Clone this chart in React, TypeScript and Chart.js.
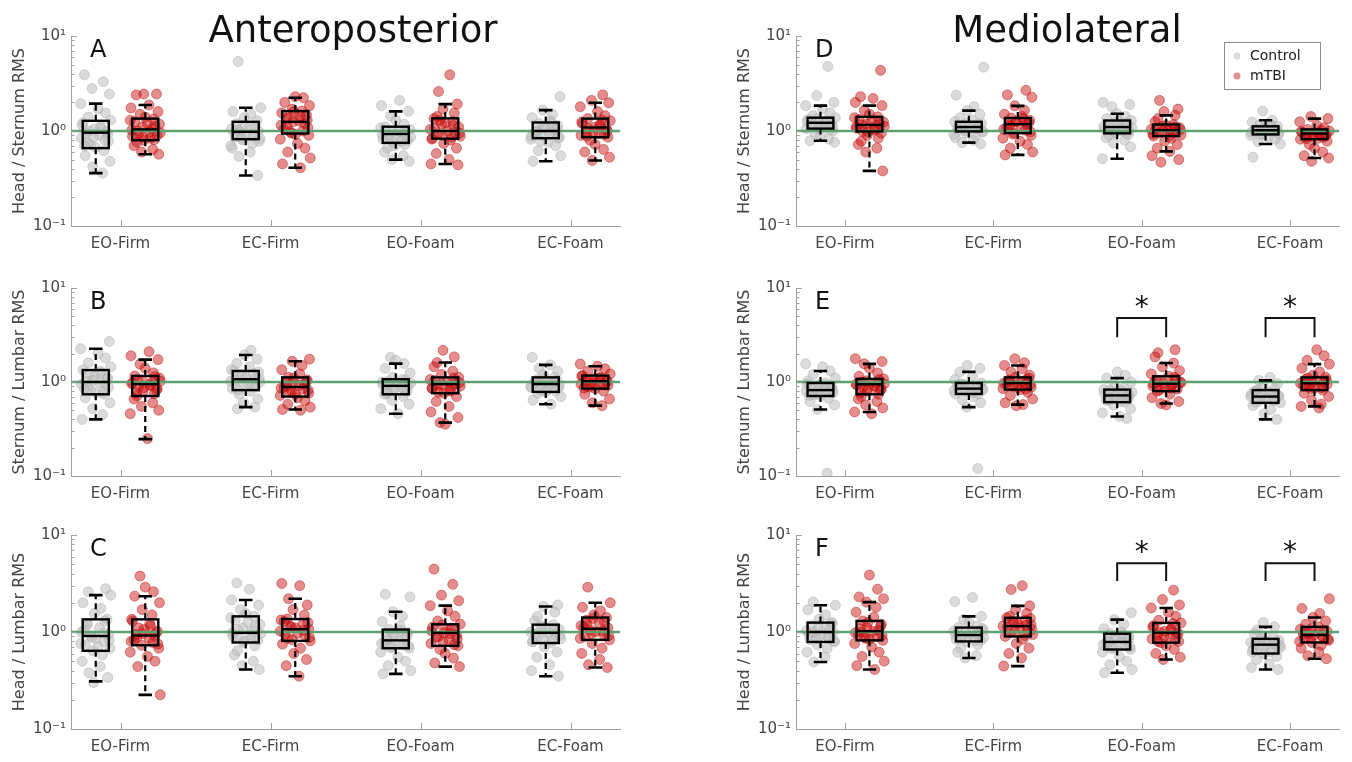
import React, { useEffect, useRef } from 'react';
import { Chart, registerables } from 'chart.js';

Chart.register(...registerables);

// ---------------- DATA ----------------
const CATEGORIES = ['EO-Firm', 'EC-Firm', 'EO-Foam', 'EC-Foam'];
const CATEGORY_VALUES = [1, 2, 3, 4];
const Y_TICK_VALUES = [0.1, 1, 10];
const Y_TICK_LABELS = ['10⁻¹', '10⁰', '10¹'];
const Y_MINOR_TICKS = [0.2, 0.3, 0.4, 0.5, 0.6, 0.7, 0.8, 0.9, 2, 3, 4, 5, 6, 7, 8, 9];
const REFERENCE_VALUE = 1;
const SERIES_NAMES = ['Control', 'mTBI'];
const COLUMN_TITLES = ['Anteroposterior', 'Mediolateral'];
const PANEL_LETTERS = ['A', 'B', 'C', 'D', 'E', 'F'];
const Y_TITLES = ['Head / Sternum RMS', 'Sternum / Lumbar RMS', 'Head / Lumbar RMS', 'Head / Sternum RMS', 'Sternum / Lumbar RMS', 'Head / Lumbar RMS'];

// jitter offsets (x units) for the scatter points
const JITTER = [-0.075, 0.05, -0.025, 0.09, -0.1, 0.015, 0.065, -0.05, 0.1, -0.085, 0.035, -0.01, 0.075, -0.06, 0.025, -0.095, 0.085, -0.035, 0.0, 0.055, -0.07, 0.095, -0.02, 0.045, -0.09, 0.03, -0.045, 0.08, -0.015, 0.06, -0.055];

// box stats per category: [lower whisker, Q1, median, Q3, upper whisker]
const A_CONTROL_BOX = [[0.36, 0.66, 0.96, 1.28, 1.94], [0.34, 0.82, 0.98, 1.25, 1.76], [0.50, 0.75, 0.93, 1.11, 1.61], [0.48, 0.84, 1.0, 1.23, 1.66]];
const A_MTBI_BOX = [[0.57, 0.80, 1.04, 1.35, 1.88], [0.41, 0.94, 1.25, 1.62, 2.24], [0.45, 0.83, 1.0, 1.36, 1.92], [0.49, 0.86, 1.09, 1.35, 1.98]];
const B_CONTROL_BOX = [[0.40, 0.74, 1.0, 1.34, 2.26], [0.54, 0.82, 1.07, 1.31, 1.94], [0.46, 0.74, 0.91, 1.07, 1.57], [0.58, 0.785, 0.95, 1.12, 1.52]];
const B_MTBI_BOX = [[0.247, 0.71, 0.95, 1.16, 1.73], [0.51, 0.70, 0.885, 1.12, 1.66], [0.37, 0.76, 0.95, 1.12, 1.61], [0.56, 0.85, 1.02, 1.17, 1.47]];
const C_CONTROL_BOX = [[0.31, 0.64, 0.91, 1.35, 2.4], [0.41, 0.78, 0.98, 1.45, 2.14], [0.37, 0.68, 0.82, 1.06, 1.62], [0.35, 0.77, 0.98, 1.19, 1.83]];
const C_MTBI_BOX = [[0.225, 0.73, 0.92, 1.35, 2.34], [0.35, 0.81, 1.07, 1.36, 2.2], [0.44, 0.72, 0.98, 1.2, 1.87], [0.43, 0.83, 1.08, 1.41, 2.0]];
const D_CONTROL_BOX = [[0.79, 1.06, 1.22, 1.38, 1.85], [0.755, 0.99, 1.1, 1.25, 1.64], [0.51, 0.945, 1.1, 1.29, 1.52], [0.73, 0.92, 1.02, 1.12, 1.30]];
const D_MTBI_BOX = [[0.38, 0.99, 1.16, 1.41, 1.85], [0.56, 0.95, 1.18, 1.37, 1.84], [0.61, 0.885, 1.02, 1.17, 1.46], [0.52, 0.82, 0.94, 1.04, 1.35]];
const E_CONTROL_BOX = [[0.51, 0.71, 0.82, 0.975, 1.31], [0.54, 0.746, 0.85, 0.975, 1.28], [0.43, 0.61, 0.72, 0.83, 1.1], [0.40, 0.60, 0.70, 0.82, 1.04]];
const E_MTBI_BOX = [[0.48, 0.74, 0.945, 1.08, 1.56], [0.575, 0.83, 0.975, 1.12, 1.5], [0.59, 0.80, 0.96, 1.15, 1.59], [0.55, 0.82, 0.97, 1.12, 1.55]];
const F_CONTROL_BOX = [[0.49, 0.79, 1.0, 1.25, 1.89], [0.54, 0.80, 0.93, 1.11, 1.45], [0.38, 0.66, 0.79, 0.96, 1.34], [0.41, 0.60, 0.74, 0.85, 1.13]];
const F_MTBI_BOX = [[0.41, 0.82, 1.02, 1.3, 2.03], [0.445, 0.90, 1.15, 1.40, 1.86], [0.52, 0.776, 0.985, 1.24, 1.77], [0.53, 0.78, 0.93, 1.13, 1.41]];

// individual subject values per category
const A_CONTROL_PTS = [
  [3.9, 3.3, 2.8, 2.45, 1.94, 1.7, 1.55, 1.4, 1.3, 1.22, 1.12, 1.05, 0.98, 0.95, 0.9, 0.84, 0.78, 0.72, 0.67, 0.62, 0.55, 0.48, 0.42, 0.36, 1.15, 1.08, 1.0, 0.92, 0.86, 0.8, 0.75, 0.7],
  [5.4, 1.76, 1.6, 1.5, 1.38, 1.28, 1.2, 1.12, 1.05, 1.0, 0.97, 0.93, 0.9, 0.86, 0.83, 0.8, 0.74, 0.66, 0.6, 0.54, 0.34, 1.15, 1.1, 1.02, 0.95, 0.88, 0.84, 0.78, 0.7],
  [2.1, 1.85, 1.61, 1.45, 1.3, 1.18, 1.1, 1.04, 0.98, 0.95, 0.92, 0.88, 0.84, 0.8, 0.76, 0.72, 0.66, 0.6, 0.55, 0.5, 0.48, 1.08, 1.0, 0.96, 0.9, 0.86, 0.82, 0.78, 0.7],
  [2.3, 1.66, 1.5, 1.38, 1.28, 1.2, 1.14, 1.08, 1.03, 1.0, 0.97, 0.93, 0.9, 0.86, 0.82, 0.76, 0.7, 0.62, 0.55, 0.48, 1.22, 1.1, 1.05, 0.98, 0.95, 0.88, 0.84, 0.78],
];
const A_MTBI_PTS = [
  [2.45, 2.45, 2.4, 1.88, 1.75, 1.6, 1.5, 1.4, 1.33, 1.25, 1.18, 1.1, 1.06, 1.02, 0.98, 0.94, 0.9, 0.86, 0.81, 0.76, 0.7, 0.64, 0.6, 0.57, 1.3, 1.2, 1.12, 1.0, 0.96, 0.88, 0.84, 0.8],
  [2.3, 2.24, 2.0, 1.85, 1.7, 1.62, 1.55, 1.45, 1.38, 1.3, 1.25, 1.2, 1.12, 1.05, 1.0, 0.95, 0.9, 0.82, 0.74, 0.66, 0.6, 0.52, 0.45, 0.41, 1.6, 1.48, 1.35, 1.28, 1.15, 1.08, 0.98, 0.92],
  [3.9, 2.6, 1.92, 1.7, 1.55, 1.42, 1.35, 1.26, 1.18, 1.1, 1.04, 1.0, 0.97, 0.93, 0.88, 0.84, 0.8, 0.74, 0.66, 0.58, 0.5, 0.45, 0.44, 1.3, 1.22, 1.14, 1.06, 0.95, 0.9, 0.86, 0.82],
  [2.4, 2.1, 1.98, 1.8, 1.6, 1.45, 1.35, 1.28, 1.2, 1.14, 1.09, 1.04, 0.99, 0.94, 0.9, 0.86, 0.8, 0.72, 0.64, 0.6, 0.53, 0.49, 1.3, 1.24, 1.16, 1.06, 1.0, 0.96, 0.92, 0.88],
];
const B_CONTROL_PTS = [
  [2.7, 2.26, 2.0, 1.8, 1.6, 1.45, 1.34, 1.25, 1.15, 1.08, 1.02, 0.98, 0.94, 0.88, 0.82, 0.77, 0.74, 0.68, 0.6, 0.52, 0.45, 0.40, 1.3, 1.2, 1.1, 1.04, 0.96, 0.9, 0.84, 0.78],
  [2.17, 1.94, 1.75, 1.58, 1.45, 1.35, 1.28, 1.2, 1.12, 1.08, 1.05, 1.0, 0.95, 0.9, 0.85, 0.8, 0.74, 0.66, 0.6, 0.54, 0.52, 1.3, 1.22, 1.15, 1.1, 1.02, 0.97, 0.88, 0.83],
  [1.83, 1.7, 1.57, 1.4, 1.25, 1.12, 1.06, 1.0, 0.95, 0.92, 0.9, 0.86, 0.82, 0.78, 0.74, 0.7, 0.64, 0.58, 0.52, 0.46, 1.05, 1.02, 0.97, 0.93, 0.88, 0.84, 0.8, 0.76],
  [1.83, 1.52, 1.4, 1.3, 1.2, 1.12, 1.06, 1.0, 0.97, 0.95, 0.92, 0.88, 0.84, 0.8, 0.76, 0.7, 0.64, 0.58, 1.1, 1.04, 1.0, 0.96, 0.9, 0.86, 0.82, 0.79],
];
const B_MTBI_PTS = [
  [2.1, 1.9, 1.73, 1.55, 1.4, 1.25, 1.16, 1.1, 1.04, 1.0, 0.96, 0.93, 0.9, 0.85, 0.8, 0.75, 0.71, 0.66, 0.6, 0.55, 0.5, 0.46, 0.25, 1.14, 1.06, 1.02, 0.98, 0.92, 0.87, 0.82, 0.77],
  [1.75, 1.66, 1.5, 1.35, 1.22, 1.12, 1.05, 1.0, 0.95, 0.9, 0.88, 0.85, 0.8, 0.76, 0.72, 0.68, 0.63, 0.58, 0.54, 0.51, 0.5, 1.1, 1.02, 0.97, 0.92, 0.86, 0.82, 0.78, 0.74],
  [2.17, 1.85, 1.61, 1.45, 1.3, 1.2, 1.12, 1.06, 1.0, 0.96, 0.93, 0.9, 0.85, 0.8, 0.76, 0.7, 0.62, 0.55, 0.48, 0.42, 0.37, 0.355, 1.1, 1.04, 0.98, 0.94, 0.9, 0.86, 0.82, 0.78],
  [1.55, 1.47, 1.38, 1.3, 1.22, 1.17, 1.12, 1.08, 1.04, 1.02, 0.99, 0.95, 0.92, 0.88, 0.85, 0.8, 0.74, 0.66, 0.6, 0.56, 1.15, 1.1, 1.06, 1.01, 0.97, 0.93, 0.9, 0.86],
];
const C_CONTROL_PTS = [
  [2.8, 2.6, 2.4, 2.0, 1.75, 1.55, 1.35, 1.22, 1.1, 1.0, 0.94, 0.91, 0.86, 0.8, 0.74, 0.68, 0.64, 0.58, 0.5, 0.44, 0.38, 0.34, 0.30, 1.3, 1.2, 1.05, 0.97, 0.88, 0.82, 0.76, 0.7],
  [3.2, 2.76, 2.14, 1.9, 1.7, 1.55, 1.45, 1.32, 1.2, 1.1, 1.02, 0.98, 0.93, 0.88, 0.82, 0.78, 0.72, 0.64, 0.58, 0.5, 0.45, 0.41, 1.4, 1.25, 1.15, 1.05, 0.96, 0.9, 0.85, 0.8],
  [2.45, 2.3, 1.62, 1.45, 1.28, 1.15, 1.06, 0.98, 0.92, 0.87, 0.82, 0.78, 0.74, 0.7, 0.68, 0.62, 0.55, 0.5, 0.45, 0.4, 0.37, 1.04, 0.95, 0.9, 0.85, 0.8, 0.76, 0.72, 0.69],
  [1.9, 1.83, 1.6, 1.45, 1.3, 1.19, 1.12, 1.06, 1.0, 0.98, 0.94, 0.9, 0.85, 0.8, 0.77, 0.7, 0.62, 0.55, 0.46, 0.4, 0.35, 1.16, 1.1, 1.03, 0.96, 0.92, 0.87, 0.82, 0.79],
];
const C_MTBI_PTS = [
  [3.77, 2.9, 2.6, 2.34, 2.0, 1.7, 1.5, 1.35, 1.22, 1.1, 1.02, 0.96, 0.92, 0.88, 0.83, 0.78, 0.73, 0.68, 0.62, 0.56, 0.5, 0.44, 0.225, 1.3, 1.15, 1.06, 0.98, 0.94, 0.86, 0.8, 0.75],
  [3.16, 3.0, 2.2, 1.9, 1.7, 1.5, 1.36, 1.28, 1.2, 1.12, 1.07, 1.02, 0.97, 0.92, 0.86, 0.81, 0.75, 0.68, 0.6, 0.52, 0.45, 0.35, 1.33, 1.25, 1.15, 1.1, 1.04, 0.95, 0.88, 0.83],
  [4.45, 3.1, 2.4, 2.1, 1.87, 1.65, 1.45, 1.3, 1.2, 1.12, 1.05, 0.98, 0.93, 0.88, 0.82, 0.76, 0.72, 0.66, 0.6, 0.54, 0.48, 0.44, 1.18, 1.1, 1.02, 0.96, 0.9, 0.85, 0.79, 0.74],
  [2.9, 2.0, 1.8, 1.65, 1.5, 1.41, 1.32, 1.24, 1.16, 1.1, 1.05, 1.0, 0.95, 0.9, 0.83, 0.76, 0.68, 0.6, 0.52, 0.46, 0.43, 1.38, 1.28, 1.2, 1.12, 1.02, 0.97, 0.92, 0.86],
];
const D_CONTROL_PTS = [
  [4.78, 2.36, 2.0, 1.85, 1.7, 1.55, 1.45, 1.38, 1.32, 1.27, 1.22, 1.18, 1.14, 1.1, 1.06, 1.0, 0.94, 0.88, 0.82, 0.79, 0.76, 1.35, 1.3, 1.25, 1.2, 1.16, 1.12, 1.08, 1.03],
  [4.7, 2.38, 1.8, 1.64, 1.5, 1.38, 1.3, 1.25, 1.2, 1.15, 1.1, 1.07, 1.03, 0.99, 0.95, 0.9, 0.85, 0.8, 0.755, 0.73, 1.22, 1.18, 1.12, 1.09, 1.05, 1.01, 0.97, 0.92],
  [2.0, 1.9, 1.8, 1.52, 1.42, 1.35, 1.29, 1.22, 1.16, 1.12, 1.1, 1.06, 1.02, 0.97, 0.945, 0.9, 0.85, 0.8, 0.75, 0.68, 0.51, 1.26, 1.2, 1.14, 1.08, 1.04, 1.0, 0.96, 0.92],
  [1.62, 1.3, 1.24, 1.18, 1.14, 1.12, 1.08, 1.05, 1.03, 1.01, 0.99, 0.96, 0.93, 0.9, 0.86, 0.82, 0.77, 0.73, 0.53, 1.1, 1.07, 1.04, 1.02, 1.0, 0.97, 0.94, 0.92],
];
const D_MTBI_PTS = [
  [4.35, 2.3, 2.2, 2.0, 1.85, 1.65, 1.5, 1.41, 1.32, 1.24, 1.18, 1.14, 1.1, 1.05, 0.99, 0.95, 0.9, 0.84, 0.78, 0.72, 0.66, 0.6, 0.38, 1.38, 1.28, 1.2, 1.16, 1.12, 1.07, 1.02, 0.97],
  [2.68, 2.4, 2.27, 1.84, 1.65, 1.5, 1.42, 1.37, 1.3, 1.24, 1.18, 1.13, 1.08, 1.02, 0.95, 0.9, 0.84, 0.78, 0.72, 0.66, 0.6, 0.56, 1.35, 1.27, 1.22, 1.16, 1.1, 1.04, 0.98, 0.93],
  [2.1, 1.7, 1.6, 1.46, 1.35, 1.25, 1.17, 1.12, 1.08, 1.04, 1.02, 0.99, 0.95, 0.91, 0.885, 0.84, 0.78, 0.72, 0.66, 0.61, 0.55, 0.5, 0.47, 1.15, 1.1, 1.06, 1.03, 1.0, 0.97, 0.93, 0.9],
  [1.42, 1.35, 1.25, 1.15, 1.08, 1.04, 1.0, 0.97, 0.95, 0.93, 0.9, 0.87, 0.84, 0.82, 0.78, 0.72, 0.66, 0.6, 0.55, 0.52, 0.48, 1.02, 0.99, 0.96, 0.94, 0.92, 0.89, 0.86, 0.83],
];
const E_CONTROL_PTS = [
  [1.56, 1.45, 1.31, 1.2, 1.1, 1.02, 0.975, 0.93, 0.88, 0.85, 0.82, 0.8, 0.77, 0.74, 0.71, 0.67, 0.62, 0.57, 0.51, 0.107, 0.95, 0.9, 0.86, 0.83, 0.8, 0.78, 0.75, 0.72],
  [1.5, 1.4, 1.28, 1.15, 1.06, 0.975, 0.94, 0.9, 0.87, 0.85, 0.83, 0.8, 0.77, 0.746, 0.7, 0.65, 0.6, 0.54, 0.12, 0.96, 0.92, 0.88, 0.86, 0.84, 0.81, 0.78, 0.75],
  [1.28, 1.18, 1.1, 1.0, 0.92, 0.86, 0.83, 0.8, 0.76, 0.73, 0.72, 0.7, 0.67, 0.64, 0.61, 0.57, 0.52, 0.47, 0.43, 0.41, 0.82, 0.78, 0.75, 0.72, 0.7, 0.67, 0.64, 0.62],
  [1.12, 1.04, 0.96, 0.9, 0.85, 0.82, 0.79, 0.76, 0.73, 0.71, 0.7, 0.68, 0.65, 0.62, 0.6, 0.56, 0.51, 0.46, 0.4, 0.8, 0.77, 0.74, 0.71, 0.69, 0.66, 0.63, 0.61],
];
const E_MTBI_PTS = [
  [1.77, 1.65, 1.56, 1.4, 1.25, 1.15, 1.08, 1.03, 0.98, 0.945, 0.91, 0.88, 0.84, 0.8, 0.74, 0.7, 0.66, 0.62, 0.57, 0.53, 0.48, 0.46, 1.06, 1.0, 0.96, 0.93, 0.9, 0.86, 0.82, 0.77],
  [1.77, 1.6, 1.5, 1.38, 1.27, 1.18, 1.12, 1.07, 1.02, 0.975, 0.95, 0.92, 0.88, 0.85, 0.83, 0.78, 0.72, 0.66, 0.6, 0.575, 0.56, 1.1, 1.05, 1.0, 0.97, 0.94, 0.9, 0.87, 0.84],
  [2.2, 2.05, 1.85, 1.59, 1.45, 1.32, 1.22, 1.15, 1.08, 1.02, 0.98, 0.96, 0.92, 0.88, 0.84, 0.8, 0.74, 0.68, 0.62, 0.59, 0.57, 1.12, 1.05, 1.0, 0.97, 0.94, 0.9, 0.86, 0.82],
  [2.2, 1.9, 1.7, 1.55, 1.4, 1.28, 1.18, 1.12, 1.07, 1.02, 0.97, 0.94, 0.9, 0.86, 0.82, 0.76, 0.7, 0.64, 0.58, 0.55, 0.53, 1.1, 1.05, 1.0, 0.98, 0.95, 0.91, 0.87, 0.84],
];
const F_CONTROL_PTS = [
  [2.04, 1.89, 1.7, 1.5, 1.35, 1.25, 1.16, 1.08, 1.03, 1.0, 0.96, 0.92, 0.87, 0.83, 0.79, 0.74, 0.68, 0.62, 0.55, 0.49, 1.22, 1.12, 1.05, 0.99, 0.94, 0.9, 0.85, 0.81],
  [2.27, 2.06, 1.45, 1.35, 1.25, 1.15, 1.11, 1.05, 1.0, 0.96, 0.93, 0.9, 0.86, 0.82, 0.8, 0.74, 0.68, 0.62, 0.57, 0.54, 1.09, 1.03, 0.98, 0.94, 0.91, 0.88, 0.84, 0.81],
  [1.58, 1.34, 1.2, 1.08, 1.0, 0.96, 0.91, 0.86, 0.82, 0.79, 0.76, 0.72, 0.69, 0.66, 0.62, 0.56, 0.5, 0.46, 0.41, 0.38, 0.94, 0.88, 0.84, 0.8, 0.78, 0.74, 0.7, 0.67],
  [1.25, 1.13, 1.05, 0.97, 0.9, 0.85, 0.82, 0.78, 0.75, 0.74, 0.72, 0.69, 0.66, 0.63, 0.6, 0.56, 0.52, 0.47, 0.43, 0.41, 0.84, 0.8, 0.77, 0.75, 0.73, 0.7, 0.67, 0.62],
];
const F_MTBI_PTS = [
  [3.86, 2.76, 2.3, 2.2, 2.03, 1.8, 1.6, 1.42, 1.3, 1.2, 1.1, 1.04, 1.0, 0.95, 0.9, 0.86, 0.82, 0.76, 0.7, 0.62, 0.56, 0.5, 0.45, 0.41, 1.26, 1.15, 1.08, 1.02, 0.98, 0.92, 0.88, 0.84],
  [3.0, 2.74, 1.86, 1.7, 1.55, 1.45, 1.4, 1.32, 1.25, 1.19, 1.15, 1.1, 1.04, 0.98, 0.94, 0.9, 0.84, 0.76, 0.68, 0.6, 0.54, 0.445, 1.38, 1.3, 1.22, 1.17, 1.12, 1.06, 1.0, 0.92],
  [2.7, 2.16, 1.9, 1.77, 1.6, 1.45, 1.32, 1.24, 1.16, 1.08, 1.02, 0.985, 0.94, 0.9, 0.85, 0.8, 0.776, 0.72, 0.66, 0.6, 0.55, 0.52, 1.22, 1.12, 1.05, 1.0, 0.96, 0.9, 0.84, 0.8],
  [2.2, 1.75, 1.55, 1.41, 1.3, 1.2, 1.13, 1.07, 1.02, 0.97, 0.93, 0.9, 0.86, 0.82, 0.78, 0.73, 0.68, 0.62, 0.57, 0.53, 1.1, 1.04, 0.99, 0.95, 0.92, 0.88, 0.84, 0.8],
];

// significance brackets: category index, bracket top value, leg end value
const E_SIGNIFICANCE = [{ cat: 3, top: 4.8, leg: 3.0 }, { cat: 4, top: 4.8, leg: 3.0 }];
const F_SIGNIFICANCE = [{ cat: 3, top: 5.1, leg: 3.35 }, { cat: 4, top: 5.1, leg: 3.35 }];

// ---------------- STYLE / LAYOUT ----------------
const X_MIN = 0.67;
const X_MAX = 4.33;
const Y_MIN = 0.1;
const Y_MAX = 10;
const GROUP_OFFSET = 0.165;
const BOX_HALF = 0.087;
const CAP_HALF = 0.045;
const FONT = '"DejaVu Sans", sans-serif';
const TEXT_COLOR = '#444';
const AXIS_COLOR = '#a0a0a0';
const CONTROL_FILL = 'rgba(190,190,190,0.55)';
const CONTROL_EDGE = 'rgba(170,170,170,0.45)';
const MTBI_FILL = 'rgba(200,10,10,0.47)';
const MTBI_EDGE = 'rgba(180,0,0,0.4)';
const GREEN = 'rgb(95,160,112)';

const AXIS_W = 71;
const PAD_TOP = 30;
const PAD_RIGHT = 10;
const XAXIS_H = 28;
const COLS = [{ left: 71, right: 620 }, { left: 796, right: 1339 }];
const ROWS = [{ top: 36, bottom: 226 }, { top: 288, bottom: 476 }, { top: 535, bottom: 729 }];

type Sig = { cat: number; top: number; leg: number };
type PanelDef = {
  letter: string;
  yTitle: string;
  col: number;
  row: number;
  controlBox: number[][];
  mtbiBox: number[][];
  controlPts: number[][];
  mtbiPts: number[][];
  sig: Sig[];
  legend: boolean;
};

const PANELS: PanelDef[] = [
  { letter: PANEL_LETTERS[0], yTitle: Y_TITLES[0], col: 0, row: 0, controlBox: A_CONTROL_BOX, mtbiBox: A_MTBI_BOX, controlPts: A_CONTROL_PTS, mtbiPts: A_MTBI_PTS, sig: [], legend: false },
  { letter: PANEL_LETTERS[1], yTitle: Y_TITLES[1], col: 0, row: 1, controlBox: B_CONTROL_BOX, mtbiBox: B_MTBI_BOX, controlPts: B_CONTROL_PTS, mtbiPts: B_MTBI_PTS, sig: [], legend: false },
  { letter: PANEL_LETTERS[2], yTitle: Y_TITLES[2], col: 0, row: 2, controlBox: C_CONTROL_BOX, mtbiBox: C_MTBI_BOX, controlPts: C_CONTROL_PTS, mtbiPts: C_MTBI_PTS, sig: [], legend: false },
  { letter: PANEL_LETTERS[3], yTitle: Y_TITLES[3], col: 1, row: 0, controlBox: D_CONTROL_BOX, mtbiBox: D_MTBI_BOX, controlPts: D_CONTROL_PTS, mtbiPts: D_MTBI_PTS, sig: [], legend: true },
  { letter: PANEL_LETTERS[4], yTitle: Y_TITLES[4], col: 1, row: 1, controlBox: E_CONTROL_BOX, mtbiBox: E_MTBI_BOX, controlPts: E_CONTROL_PTS, mtbiPts: E_MTBI_PTS, sig: E_SIGNIFICANCE, legend: false },
  { letter: PANEL_LETTERS[5], yTitle: Y_TITLES[5], col: 1, row: 2, controlBox: F_CONTROL_BOX, mtbiBox: F_MTBI_BOX, controlPts: F_CONTROL_PTS, mtbiPts: F_MTBI_PTS, sig: F_SIGNIFICANCE, legend: false },
];

function canvasBox(p: PanelDef) {
  const c = COLS[p.col];
  const r = ROWS[p.row];
  return {
    left: c.left - AXIS_W,
    top: r.top - PAD_TOP,
    width: c.right - c.left + AXIS_W + PAD_RIGHT,
    height: r.bottom - r.top + PAD_TOP + XAXIS_H,
  };
}

function scatterData(pts: number[][], off: number, seed: number) {
  const out: { x: number; y: number }[] = [];
  pts.forEach((vals, ci) => {
    vals.forEach((v, i) => {
      const j = JITTER[(i + ci * 7 + seed) % JITTER.length];
      out.push({ x: CATEGORY_VALUES[ci] + off + j, y: v });
    });
  });
  return out;
}

function makePanelPlugin(p: PanelDef) {
  return {
    id: 'panelDecor' + p.letter,
    afterDatasetsDraw(chart: any) {
      const { ctx, chartArea } = chart;
      const xs = chart.scales.x;
      const ys = chart.scales.y;
      ctx.save();
      // axis ticks (inward)
      ctx.strokeStyle = AXIS_COLOR;
      ctx.lineWidth = 1;
      ctx.beginPath();
      Y_TICK_VALUES.forEach((v) => {
        const y = Math.round(ys.getPixelForValue(v)) + 0.5;
        ctx.moveTo(chartArea.left, y);
        ctx.lineTo(chartArea.left + 6, y);
      });
      Y_MINOR_TICKS.forEach((v) => {
        const y = Math.round(ys.getPixelForValue(v)) + 0.5;
        ctx.moveTo(chartArea.left, y);
        ctx.lineTo(chartArea.left + 3.5, y);
      });
      CATEGORY_VALUES.forEach((v) => {
        const x = Math.round(xs.getPixelForValue(v)) + 0.5;
        ctx.moveTo(x, chartArea.bottom);
        ctx.lineTo(x, chartArea.bottom - 6);
      });
      ctx.stroke();

      // boxes
      const groups: [number[][], number][] = [[p.controlBox, -GROUP_OFFSET], [p.mtbiBox, GROUP_OFFSET]];
      groups.forEach(([boxes, off]) => {
        boxes.forEach((b, ci) => {
          const xc = CATEGORY_VALUES[ci] + off;
          const xl = xs.getPixelForValue(xc - BOX_HALF);
          const xr = xs.getPixelForValue(xc + BOX_HALF);
          const xm = xs.getPixelForValue(xc);
          const cl = xs.getPixelForValue(xc - CAP_HALF);
          const cr = xs.getPixelForValue(xc + CAP_HALF);
          const [lo, q1, med, q3, hi] = b.map((v) => ys.getPixelForValue(v));
          ctx.strokeStyle = '#000';
          ctx.lineWidth = 2.2;
          ctx.setLineDash([6, 4]);
          ctx.beginPath();
          ctx.moveTo(xm, q3);
          ctx.lineTo(xm, hi);
          ctx.moveTo(xm, q1);
          ctx.lineTo(xm, lo);
          ctx.stroke();
          ctx.setLineDash([]);
          ctx.lineWidth = 2.6;
          ctx.beginPath();
          ctx.moveTo(cl, hi);
          ctx.lineTo(cr, hi);
          ctx.moveTo(cl, lo);
          ctx.lineTo(cr, lo);
          ctx.stroke();
          ctx.lineWidth = 2.4;
          ctx.strokeRect(xl, q3, xr - xl, q1 - q3);
          ctx.beginPath();
          ctx.moveTo(xl, med);
          ctx.lineTo(xr, med);
          ctx.stroke();
        });
      });

      // significance brackets
      p.sig.forEach((s) => {
        const x1 = xs.getPixelForValue(s.cat - GROUP_OFFSET);
        const x2 = xs.getPixelForValue(s.cat + GROUP_OFFSET);
        const yt = ys.getPixelForValue(s.top);
        const yl = ys.getPixelForValue(s.leg);
        ctx.strokeStyle = '#111';
        ctx.lineWidth = 2;
        ctx.beginPath();
        ctx.moveTo(x1, yl);
        ctx.lineTo(x1, yt);
        ctx.lineTo(x2, yt);
        ctx.lineTo(x2, yl);
        ctx.stroke();
        ctx.fillStyle = '#111';
        ctx.font = '28px ' + FONT;
        ctx.textAlign = 'center';
        ctx.textBaseline = 'alphabetic';
        ctx.fillText('*', (x1 + x2) / 2, yt - 2);
      });

      // legend
      if (p.legend) {
        const lx = chartArea.right - 115;
        const ly = chartArea.top + 6;
        ctx.fillStyle = '#fff';
        ctx.fillRect(lx, ly, 96, 47);
        ctx.strokeStyle = '#8c8c8c';
        ctx.lineWidth = 1;
        ctx.strokeRect(lx + 0.5, ly + 0.5, 96, 47);
        const items = [
          { name: SERIES_NAMES[0], fill: CONTROL_FILL },
          { name: SERIES_NAMES[1], fill: MTBI_FILL },
        ];
        items.forEach((it, i) => {
          const cy = ly + 14 + i * 20;
          ctx.fillStyle = it.fill;
          ctx.beginPath();
          ctx.arc(lx + 13, cy, 3.5, 0, Math.PI * 2);
          ctx.fill();
          ctx.fillStyle = '#222';
          ctx.font = '14px ' + FONT;
          ctx.textAlign = 'left';
          ctx.textBaseline = 'middle';
          ctx.fillText(it.name, lx + 26, cy);
        });
      }
      ctx.restore();
    },
  };
}

function Panel({ p }: { p: PanelDef }) {
  const ref = useRef<HTMLCanvasElement | null>(null);
  const box = canvasBox(p);
  useEffect(() => {
    if (!ref.current) return;
    const chart = new Chart(ref.current, {
      type: 'scatter',
      data: {
        datasets: [
          {
            type: 'line',
            label: 'reference',
            data: [{ x: X_MIN, y: REFERENCE_VALUE }, { x: X_MAX, y: REFERENCE_VALUE }],
            borderColor: GREEN,
            borderWidth: 2.5,
            pointRadius: 0,
            order: 0,
          } as any,
          {
            label: SERIES_NAMES[0],
            data: scatterData(p.controlPts, -GROUP_OFFSET, p.row * 3 + p.col),
            backgroundColor: CONTROL_FILL,
            borderColor: CONTROL_EDGE,
            borderWidth: 1,
            pointRadius: 5,
            order: 1,
          },
          {
            label: SERIES_NAMES[1],
            data: scatterData(p.mtbiPts, GROUP_OFFSET, p.row * 3 + p.col + 11),
            backgroundColor: MTBI_FILL,
            borderColor: MTBI_EDGE,
            borderWidth: 1,
            pointRadius: 5,
            order: 1,
          },
        ],
      },
      options: {
        animation: false,
        responsive: false,
        events: [],
        layout: { padding: { top: PAD_TOP, right: PAD_RIGHT, left: 0, bottom: 0 } },
        plugins: { legend: { display: false }, tooltip: { enabled: false }, title: { display: false } },
        scales: {
          x: {
            type: 'linear',
            min: X_MIN,
            max: X_MAX,
            grid: { display: false, drawTicks: false },
            border: { display: true, color: AXIS_COLOR, width: 1 },
            afterBuildTicks: (s: any) => {
              s.ticks = CATEGORY_VALUES.map((v) => ({ value: v }));
            },
            afterFit: (s: any) => {
              s.height = XAXIS_H;
            },
            ticks: {
              padding: 9,
              color: TEXT_COLOR,
              font: { family: FONT, size: 15 },
              maxRotation: 0,
              autoSkip: false,
              callback: (v: any) => {
                const i = CATEGORY_VALUES.indexOf(Number(v));
                return i >= 0 ? CATEGORIES[i] : '';
              },
            },
          },
          y: {
            type: 'logarithmic',
            min: Y_MIN,
            max: Y_MAX,
            grid: { display: false, drawTicks: false },
            border: { display: true, color: AXIS_COLOR, width: 1 },
            afterBuildTicks: (s: any) => {
              s.ticks = Y_TICK_VALUES.map((v) => ({ value: v }));
            },
            afterFit: (s: any) => {
              s.width = AXIS_W;
            },
            title: {
              display: true,
              text: p.yTitle,
              color: TEXT_COLOR,
              font: { family: FONT, size: 16 },
              padding: { top: 10, bottom: 0 },
            },
            ticks: {
              padding: 5,
              color: TEXT_COLOR,
              font: { family: FONT, size: 15 },
              autoSkip: false,
              callback: (v: any) => {
                const i = Y_TICK_VALUES.findIndex((t) => Math.abs(t - Number(v)) < 1e-9);
                return i >= 0 ? Y_TICK_LABELS[i] : '';
              },
            },
          },
        },
      },
      plugins: [makePanelPlugin(p)],
    } as any);
    return () => chart.destroy();
  }, []);
  return (
    <canvas
      ref={ref}
      width={box.width}
      height={box.height}
      style={{ position: 'absolute', left: box.left, top: box.top, width: box.width, height: box.height, display: 'block' }}
    />
  );
}

export default function App() {
  return (
    <div style={{ position: 'absolute', left: 0, top: 0, width: 1352, height: 762, background: '#fff', overflow: 'hidden', fontFamily: FONT }}>
      {PANELS.map((p) => (
        <Panel key={p.letter} p={p} />
      ))}
      {COLUMN_TITLES.map((t, i) => (
        <div
          key={t}
          style={{
            position: 'absolute',
            left: i === 0 ? 353 : 1067,
            top: 11,
            transform: 'translateX(-50%)',
            fontSize: 37,
            lineHeight: '37px',
            color: '#111',
            whiteSpace: 'nowrap',
          }}
        >
          {t}
        </div>
      ))}
      {PANELS.map((p) => (
        <div
          key={'L' + p.letter}
          style={{
            position: 'absolute',
            left: COLS[p.col].left + 19,
            top: ROWS[p.row].top + 1,
            fontSize: 24,
            lineHeight: '24px',
            color: '#111',
          }}
        >
          {p.letter}
        </div>
      ))}
    </div>
  );
}
